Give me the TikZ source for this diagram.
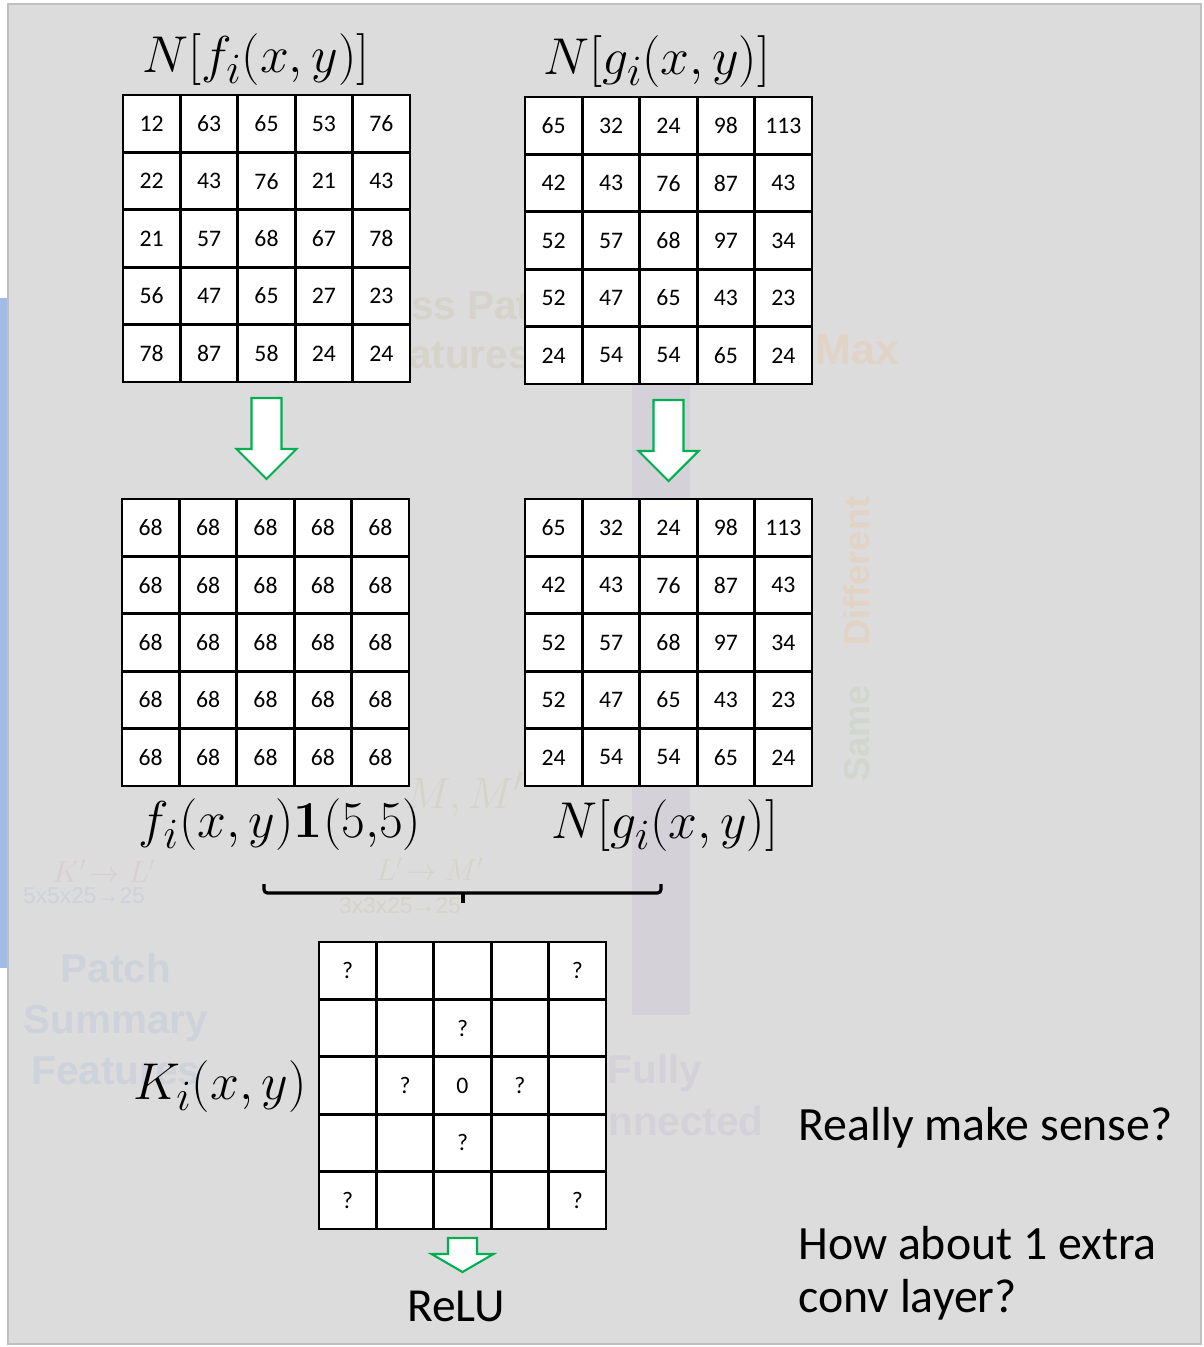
\documentclass[tikz,border=0pt]{standalone}
\usepackage{amsmath}
\usepackage{graphicx}
\usepackage[no-math]{fontspec}
\setmainfont{Carlito}
\newfontfamily\ghostfont{Liberation Sans}
\usetikzlibrary{calc}

\definecolor{slidebg}{HTML}{DCDCDC}
\definecolor{slideedge}{HTML}{C0C0C0}
\definecolor{arrowgreen}{HTML}{00B050}
\definecolor{stripblue}{HTML}{A3BCE6}
\definecolor{ghostorange}{HTML}{E2D3C7}
\definecolor{ghostgreen}{HTML}{D2D7CD}
\definecolor{ghostblue}{HTML}{CDD2DB}
\definecolor{ghostgrey}{HTML}{D4D2D8}
\definecolor{ghostsand}{HTML}{D5D3CA}
\definecolor{ghostred}{HTML}{D9CFCF}

\tikzset{
  cell/.style={draw,line width=1.6pt,fill=white,minimum size=1.148cm,inner sep=0pt,outer sep=0pt,
    font=\fontsize{13.5}{15}\selectfont},
  mathlabel/.style={inner sep=0pt,font=\fontsize{24.88}{30}\selectfont},
  saytext/.style={anchor=west,inner sep=0pt,font=\fontsize{27.2}{32}\selectfont},
  blockarrow/.style={draw=arrowgreen,fill=white,line width=1.2pt,line join=miter},
  ghost/.style={inner sep=0pt,align=center,font=\ghostfont\bfseries\fontsize{23}{29}\selectfont},
  ghostsmall/.style={inner sep=0pt,font=\ghostfont\fontsize{13}{15}\selectfont},
}

% 5x5 grid of numbered cells: name, left x, top y, rows
\newcommand{\numgrid}[4]{%
  \foreach \row [count=\r] in {#4} {
    \foreach \val [count=\c] in \row {
      \node[cell] (#1-\r-\c) at ({#2+(\c-0.5)*57.4},{#3+(\r-0.5)*57.4}) {\val};
    }
  }%
}
% math label enlarged past the largest cm size
\newcommand{\bigmath}[1]{\scalebox{1.185}{$#1$}}

\begin{document}
\begin{tikzpicture}[x=0.02cm,y=-0.02cm]
\path[use as bounding box] (0,0) rectangle (1204,1347);
\fill[stripblue] (0,298) rectangle (8,968);
\draw[slideedge,fill=slidebg,line width=1.4pt] (8,4) rectangle (1201,1344);

% faded slide underneath
\fill[ghostgrey] (632,381) rectangle (690,1015);
\node[ghost,text=ghostsand,anchor=west] (crossa) at (411,306) {ss Pat};
\node[ghost,text=ghostsand,anchor=west] (crossb) at (409,356) {atures};
\node[ghost,text=ghostorange,anchor=west,font=\ghostfont\bfseries\fontsize{24.5}{30}\selectfont] (maxlbl) at (815,350) {Max};
\node[ghost,text=ghostorange,rotate=90,font=\ghostfont\bfseries\fontsize{20.5}{24}\selectfont] (difflbl) at (857,571) {Different};
\node[ghost,text=ghostgreen,rotate=90,font=\ghostfont\bfseries\fontsize{20.5}{24}\selectfont] (samelbl) at (857,733) {Same};
\node[ghost,text=ghostblue] (patchlbl) at (116,1019) {Patch\\Summary\\Features};
\node[ghost,text=ghostgrey] (fclbl) at (655,1073) {Fully};
\node[ghost,text=ghostgrey,anchor=west] (fclblb) at (608,1121) {nnected};
\node[ghostsmall,text=ghostblue] (kdims) at (84,896) {5x5x25→25};
\node[ghostsmall,text=ghostsand] (ldims) at (400,906) {3x3x25→25};
\node[inner sep=0pt,text=ghostred,font=\fontsize{17}{20}\selectfont] (klmap) at (104,871) {$K'\!\rightarrow L'$};
\node[inner sep=0pt,text=ghostsand,font=\fontsize{17}{20}\selectfont] (lmmap) at (430,869) {$L'\!\rightarrow M'$};
\node[inner sep=0pt,text=ghostsand,font=\fontsize{24.88}{30}\selectfont] (mmlbl) at (465,795) {$M, M'$};

% grids
\numgrid{A}{123}{95}{{12,63,65,53,76},{22,43,76,21,43},{21,57,68,67,78},{56,47,65,27,23},{78,87,58,24,24}}
\numgrid{B}{525}{97}{{65,32,24,98,113},{42,43,76,87,43},{52,57,68,97,34},{52,47,65,43,23},{24,54,54,65,24}}
\numgrid{C}{122}{499}{{68,68,68,68,68},{68,68,68,68,68},{68,68,68,68,68},{68,68,68,68,68},{68,68,68,68,68}}
\numgrid{D}{525}{499}{{65,32,24,98,113},{42,43,76,87,43},{52,57,68,97,34},{52,47,65,43,23},{24,54,54,65,24}}
\numgrid{E}{319}{942}{{?,{},{},{},?},{{},{},?,{},{}},{{},?,0,?,{}},{{},{},?,{},{}},{?,{},{},{},?}}

% labels
\node[mathlabel] (nf) at (256,60) {\bigmath{N[f_i(x,y)]}};
\node[mathlabel] (ng) at (657,62) {\bigmath{N[g_i(x,y)]}};
\node[mathlabel] (fone) at (280,825) {\bigmath{f_i(x,y)\mathbf{1}(5{,}5)}};
\node[mathlabel] (ngb) at (665,826) {\bigmath{N[g_i(x,y)]}};
\node[mathlabel] (ki) at (220,1087) {\bigmath{K_i(x,y)}};

% block arrows
\draw[blockarrow] ($(A-5-3.south)+(-15,16)$) -- ++(0,51) -- ++(-15,0) -- ++(30,30) -- ++(30,-30) -- ++(-15,0) -- ++(0,-51) -- cycle;
\draw[blockarrow] ($(B-5-3.south)+(-15,16)$) -- ++(0,51) -- ++(-15,0) -- ++(30,30) -- ++(30,-30) -- ++(-15,0) -- ++(0,-51) -- cycle;
\draw[blockarrow] ($(E-5-3.south)+(-14.5,9)$) -- ++(0,16) -- ++(-16.5,0) -- ++(31,18) -- ++(31,-18) -- ++(-16.5,0) -- ++(0,-16) -- cycle;

% brace joining the two maps
\coordinate (braceL) at (264,884);
\coordinate (braceR) at (661,884);
\draw[line width=1.8pt,rounded corners=2pt] (braceL) -- (264,893) -- (661,893) -- (braceR);
\draw[line width=2.2pt] (463,893) -- (463,903);

\node[inner sep=0pt,font=\fontsize{27}{32}\selectfont] (relu) at (456,1306) {ReLU};
\node[saytext] (sense) at (798,1128) {Really make sense?};
\node[saytext] (extra) at (798,1243) {How about 1 extra};
\node[saytext] (conv) at (798,1300) {conv layer?};
\end{tikzpicture}
\end{document}
